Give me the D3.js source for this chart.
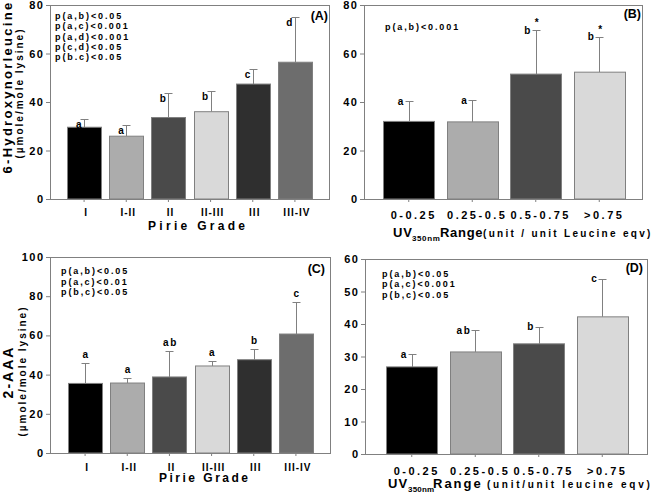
<!DOCTYPE html>
<html><head><meta charset="utf-8">
<script src="https://cdn.jsdelivr.net/npm/d3@7"></script>
<style>
body{margin:0;background:#fff;}
svg{display:block;}
</style></head><body>
<svg id="chart" width="656" height="493"></svg>
<script>
// ---------- data ----------
const gradeCategories = ["I", "I-II", "II", "II-III", "III", "III-IV"];
const uvCategories = ["0-0.25", "0.25-0.5", "0.5-0.75", ">0.75"];

const hnlByGrade = [29.6, 25.9, 33.6, 36.0, 47.4, 56.4];
const hnlByGradeSD = [3.3, 4.5, 10.2, 8.7, 6.2, 18.7];
const hnlByGradeLetters = ["a", "a", "b", "b", "c", "d"];

const hnlByUV = [32.0, 31.8, 51.5, 52.3];
const hnlByUVSD = [8.3, 8.9, 18.0, 14.7];
const hnlByUVLetters = ["a", "a", "b", "b"];
const hnlByUVStars = ["", "", "*", "*"];

const aaaByGrade = [35.5, 35.7, 38.8, 44.4, 47.6, 60.7];
const aaaByGradeSD = [10.6, 2.7, 13.2, 2.4, 5.5, 16.5];
const aaaByGradeLetters = ["a", "a", "ab", "a", "b", "c"];

const aaaByUV = [26.8, 31.4, 33.9, 42.2];
const aaaByUVSD = [3.9, 6.7, 5.3, 11.8];
const aaaByUVLetters = ["a", "ab", "b", "c"];

const gradeColors = ["#000000", "#acacac", "#4a4a4a", "#d9d9d9", "#2f2f2f", "#6d6d6d"];
const uvColors = ["#000000", "#acacac", "#4a4a4a", "#d9d9d9"];

const ticksA = [0, 20, 40, 60, 80];
const ticksB = [0, 20, 40, 60, 80];
const ticksC = [0, 20, 40, 60, 80, 100];
const ticksD = [0, 10, 20, 30, 40, 50, 60];

const pTextA = ["p(a,b)<0.05", "p(a,c)<0.001", "p(a,d)<0.001", "p(c,d)<0.05", "p(b.c)<0.05"];
const pTextB = ["p(a,b)<0.001"];
const pTextC = ["p(a,b)<0.05", "p(a,c)<0.01", "p(b,c)<0.05"];
const pTextD = ["p(a,b)<0.05", "p(a,c)<0.001", "p(b,c)<0.05"];

// ---------- drawing ----------
const FONT = '"Liberation Sans", Arial, Helvetica, sans-serif';
const GRAY = "#808080";
const svg = d3.select("#chart").attr("font-family", FONT).attr("font-weight", "bold");

function txt(g, s, x, y, size, spacing, anchor) {
  return g.append("text").attr("x", x).attr("y", y).attr("font-size", size)
    .style("letter-spacing", spacing + "px").attr("text-anchor", anchor || "start")
    .attr("fill", "#000").text(s);
}

function drawPanel(o) {
  const g = svg.append("g");
  const x = d3.scaleBand().domain(o.cats).range(o.band).paddingInner(o.pad).paddingOuter(o.pad / 2);
  const y = d3.scaleLinear().domain([0, o.ymax]).range([o.bottom, o.top]);

  // frame
  g.append("rect").attr("x", o.left + 0.5).attr("y", o.top + 0.5)
    .attr("width", o.right - o.left).attr("height", o.bottom - o.top)
    .attr("fill", "none").attr("stroke", GRAY).attr("stroke-width", 1);

  // y axis
  const ya = g.append("g").attr("transform", `translate(${o.left},0)`)
    .call(d3.axisLeft(y).tickValues(o.ticks).tickSize(4).tickPadding(1.5).tickFormat(d3.format("d")));
  ya.select(".domain").remove();
  ya.selectAll("line").attr("stroke", GRAY);
  ya.selectAll("text").attr("font-size", 11).style("letter-spacing", "1.5px")
    .attr("fill", "#000").attr("font-family", FONT).attr("font-weight", "bold");

  // x axis
  const xa = g.append("g").attr("transform", `translate(0,${o.bottom})`)
    .call(d3.axisBottom(x).tickSize(3).tickSizeOuter(0));
  xa.select(".domain").remove();
  xa.selectAll("line").attr("stroke", GRAY);
  xa.selectAll("text").attr("y", o.xLabelBase - o.bottom).attr("dy", null).attr("dx", o.xLabelDx)
    .attr("font-size", o.xLabelSize).style("letter-spacing", o.xLabelSpacing + "px")
    .attr("fill", "#000").attr("font-family", FONT).attr("font-weight", "bold");

  const rows = o.cats.map((c, i) => ({ c, v: o.values[i], sd: o.sd[i], col: o.colors[i],
    letter: o.letters[i], star: o.stars ? o.stars[i] : "" }));

  // error bars (drawn under bars)
  const eb = g.append("g").attr("stroke", GRAY).attr("stroke-width", 1);
  rows.forEach(r => {
    const cx = Math.round(x(r.c) + x.bandwidth() / 2) + 0.5;
    const top = Math.round(y(r.v + r.sd)) + 0.5;
    eb.append("line").attr("x1", cx).attr("x2", cx).attr("y1", y(r.v)).attr("y2", top);
    eb.append("line").attr("x1", cx - 4).attr("x2", cx + 4).attr("y1", top).attr("y2", top);
  });

  // bars
  g.append("g").selectAll("rect").data(rows).join("rect")
    .attr("x", d => Math.round(x(d.c)) + 0.5)
    .attr("y", d => y(d.v))
    .attr("width", Math.round(x.bandwidth()))
    .attr("height", d => y(0) - y(d.v))
    .attr("fill", d => d.col)
    .attr("stroke", GRAY).attr("stroke-width", 1);

  // significance letters
  const lg = g.append("g");
  rows.forEach(r => {
    const cx = x(r.c) + x.bandwidth() / 2;
    const cy = y(r.v + r.sd);
    if (o.letterMode === "above") {
      txt(lg, r.letter, cx + 1, cy - 5, 10, 1.5, "middle");
    } else if (o.letterMode === "below") {
      txt(lg, r.letter, cx - 1, cy + 9, 10, 1.5, "end");
    } else {
      txt(lg, r.letter, cx - 4, cy + 3.5, 10, 1.5, "end");
    }
    if (r.star) txt(lg, r.star, cx + 1, cy - 4, 10, 0, "middle");
  });

  // p-value notes
  o.pText.forEach((s, i) => txt(g, s, o.pX, o.pY + i * o.pStep, 9, 1.9));

  // panel tag
  txt(g, o.tag, o.tagX, o.tagY, 12.5, 0, "end");
}

drawPanel({ cats: gradeCategories, values: hnlByGrade, sd: hnlByGradeSD, letters: hnlByGradeLetters,
  colors: gradeColors, ymax: 80, ticks: ticksA, left: 50, right: 329, top: 5, bottom: 199,
  band: [63, 316], pad: 0.19, xLabelBase: 216, xLabelSize: 10, xLabelSpacing: 1, xLabelDx: 2,
  letterMode: "below", pText: pTextA, pX: 55, pY: 19, pStep: 10.3, tag: "(A)", tagX: 328, tagY: 19.5 });

drawPanel({ cats: uvCategories, values: hnlByUV, sd: hnlByUVSD, letters: hnlByUVLetters, stars: hnlByUVStars,
  colors: uvColors, ymax: 80, ticks: ticksB, left: 364, right: 642, top: 5, bottom: 199,
  band: [377, 631], pad: 0.2, xLabelBase: 219, xLabelSize: 11, xLabelSpacing: 2.5, xLabelDx: 5,
  letterMode: "side", pText: pTextB, pX: 385, pY: 29.5, pStep: 10.5, tag: "(B)", tagX: 641, tagY: 17.5 });

drawPanel({ cats: gradeCategories, values: aaaByGrade, sd: aaaByGradeSD, letters: aaaByGradeLetters,
  colors: gradeColors, ymax: 100, ticks: ticksC, left: 50, right: 330, top: 257, bottom: 453,
  band: [64, 317], pad: 0.19, xLabelBase: 471, xLabelSize: 10, xLabelSpacing: 1, xLabelDx: 2,
  letterMode: "above", pText: pTextC, pX: 61, pY: 274, pStep: 10.6, tag: "(C)", tagX: 325, tagY: 272.5 });

drawPanel({ cats: uvCategories, values: aaaByUV, sd: aaaByUVSD, letters: aaaByUVLetters,
  colors: uvColors, ymax: 60, ticks: ticksD, left: 365, right: 647, top: 259, bottom: 454,
  band: [380, 634], pad: 0.2, xLabelBase: 475, xLabelSize: 11, xLabelSpacing: 2.5, xLabelDx: 5,
  letterMode: "side", pText: pTextD, pX: 382, pY: 276.5, pStep: 10.6, tag: "(D)", tagX: 643, tagY: 272 });

// ---------- axis titles ----------
const tg = svg.append("g");
txt(tg, "6-Hydroxynorleucine", 0, 0, 13, 2.3, "middle").attr("transform", "translate(11.5,87) rotate(-90)");
txt(tg, "(\u00b5mole/mole lysine)", 0, 0, 10, 2, "middle").attr("transform", "translate(22.5,93) rotate(-90)");
txt(tg, "2-AAA", 0, 0, 14, 2, "middle").attr("transform", "translate(13,372) rotate(-90)");
txt(tg, "(\u00b5mole/mole lysine)", 0, 0, 10, 2, "middle").attr("transform", "translate(25.5,371) rotate(-90)");

txt(tg, "Pirie Grade", 148, 230, 12, 3.3);
txt(tg, "Pirie Grade", 159, 482, 12, 2.5);

txt(tg, "UV", 393, 237, 13, 0.8);
txt(tg, "350nm", 412, 240.5, 8, 0.6);
txt(tg, "Range", 440, 237, 13, 0.7);
txt(tg, "(unit / unit Leucine eqv)", 483, 237, 10, 2.3);

txt(tg, "UV", 388, 488, 13, 1);
txt(tg, "350nm", 408, 491.5, 8, 0.2);
txt(tg, "Range", 433, 488, 13, 2);
txt(tg, "(unit/unit leucine eqv)", 487, 488, 10, 2.7);
</script>
</body></html>
